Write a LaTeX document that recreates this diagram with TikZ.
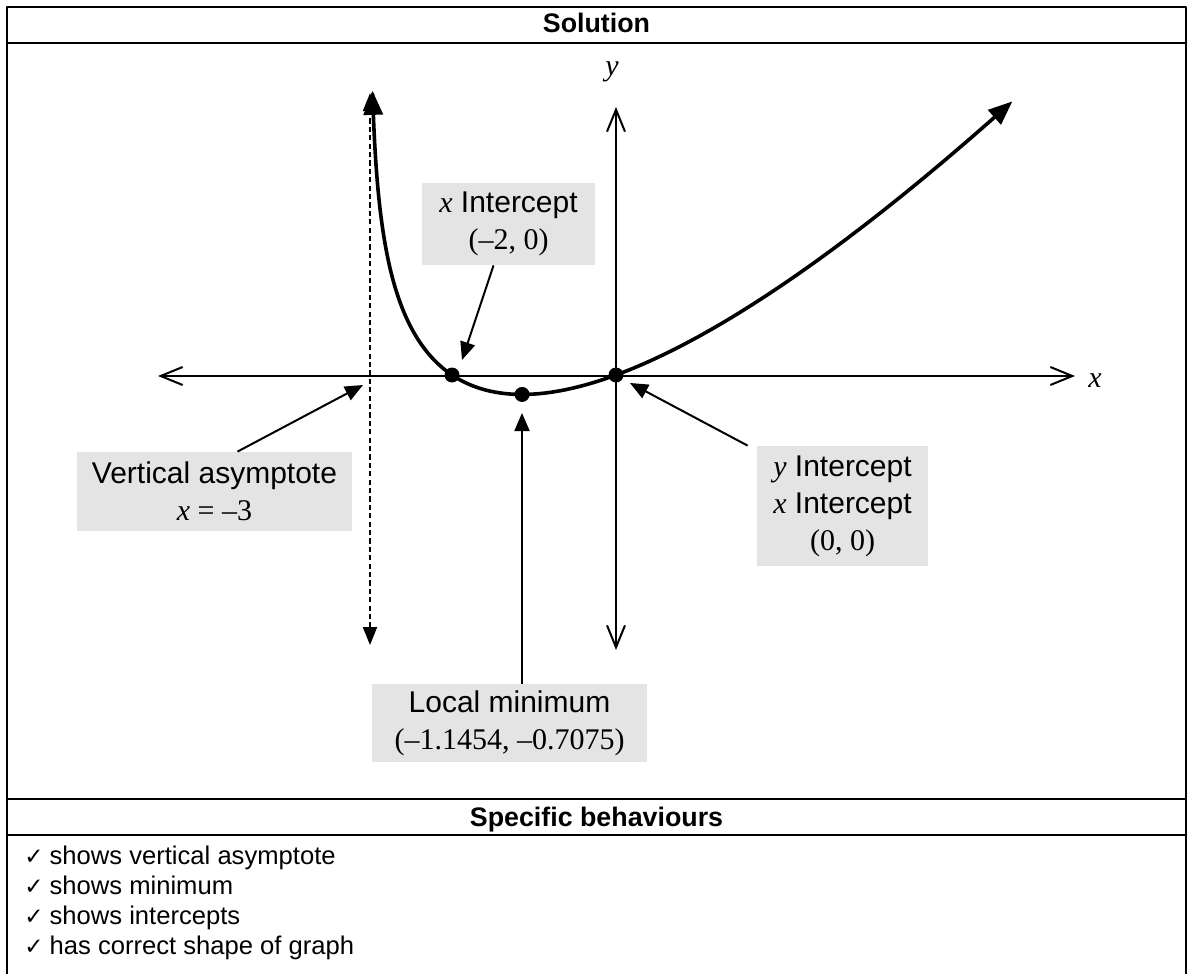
\documentclass[tikz,border=0pt]{standalone}
\usepackage{fontspec}
\setmainfont{Liberation Sans}
\newfontfamily\tnr{Liberation Serif}
\newfontfamily\chkfont{DejaVu Sans}
\usetikzlibrary{arrows.meta}
\definecolor{boxgray}{RGB}{228,228,228}

\begin{document}
\begin{tikzpicture}[x=0.5pt, y=-0.5pt, line join=round,
  rule/.style={line width=1.2pt},
  head/.style={font=\bfseries\fontsize{13.4}{16}\selectfont, anchor=base},
  item/.style={font=\fontsize{12.8}{15}\selectfont, anchor=base west, inner sep=0pt},
  lbl/.style={fill=boxgray, inner sep=0pt, align=center,
    font=\fontsize{15}{18.5}\selectfont},
  axis/.style={line width=1pt, {Straight Barb[length=11pt,width=9pt]}-{Straight Barb[length=11pt,width=9pt]}},
  pointer/.style={line width=1pt, -{Triangle[length=9pt,width=7.5pt]}},
  dot/.style={circle, fill, inner sep=0pt, minimum size=7.5pt}]
  \useasboundingbox (0,0) rectangle (1188,974);
  % table
  \draw[rule] (7,974) -- (7,7) -- (1186,7) -- (1186,974);
  \draw[rule] (7,43) -- (1186,43) (7,799) -- (1186,799) (7,835) -- (1186,835);
  \node[head] (sol) at (596.5,33) {Solution};
  \node[head] (spec) at (596.5,826) {Specific behaviours};
  \foreach \k/\txt in {0/shows vertical asymptote, 1/shows minimum,
    2/shows intercepts, 3/has correct shape of graph}
    \node[item] (item\k) at (24,864+30*\k) {{\chkfont\fontsize{11.5}{12}\selectfont ✓}\hspace{3pt}\txt};
  % axes
  \path (158,376) coordinate (xl) (1075,376) coordinate (xr)
    (616,107) coordinate (yt) (616,650) coordinate (yb);
  \draw[axis] (xl) -- (xr);
  \draw[axis] (yb) -- (yt);
  \node[font=\tnr\itshape\fontsize{15}{18}\selectfont] (xlab) at (1095,381) {x};
  \node[font=\tnr\itshape\fontsize{15}{18}\selectfont] (ylab) at (612,72) {y};
  % graph of x ln(x+3)
  \begin{scope}[shift={(616,375)}, x=41pt, y=13.75pt]
    \draw[line width=1pt, dash pattern=on 2.6pt off 1.6pt,
      {Triangle[length=9pt,width=7pt]}-{Triangle[length=9pt,width=7pt]}]
      (-3,-9.82) -- (-3,10.25);
    \draw[line width=1.8pt, {Triangle[length=12pt,width=9.5pt]}-{Triangle[length=12pt,width=9.5pt]}]
      plot[domain=-3.48:2.06, samples=150, variable=\t] ({exp(\t)-3},{(exp(\t)-3)*\t});
    \node[dot] (xi) at (-2,0) {};
    \node[dot] (mn) at (-1.1454,-0.7075) {};
    \node[dot] (org) at (0,0) {};
  \end{scope}
  % labels
  \node[lbl, minimum width=86.5pt, minimum height=41pt] (xint) at (508.5,224)
    {{\tnr\itshape x} Intercept\\{\tnr (–2, 0)}};
  \node[lbl, minimum width=137.5pt, minimum height=39.5pt] (vert) at (214.5,491.5)
    {Vertical asymptote\\{\tnr{\itshape x} = –3}};
  \node[lbl, minimum width=137.5pt, minimum height=39pt] (locmin) at (509.5,723)
    {Local minimum\\{\tnr (–1.1454, –0.7075)}};
  \node[lbl, minimum width=85.5pt, minimum height=60pt] (yint) at (842.5,506)
    {{\tnr\itshape y} Intercept\\{\tnr\itshape x} Intercept\\{\tnr (0, 0)}};
  \path (462,360) coordinate (xit) (363,385) coordinate (vat)
    (522,413) coordinate (mnt) (630,383) coordinate (oit);
  \draw[pointer] ([xshift=-7.5pt]xint.south) -- (xit);
  \draw[pointer] ([xshift=11.5pt]vert.north) -- (vat);
  \draw[pointer] (locmin.north -| mnt) -- (mnt);
  \draw[pointer] ([xshift=-4.5pt]yint.north west) -- (oit);
\end{tikzpicture}
\end{document}
